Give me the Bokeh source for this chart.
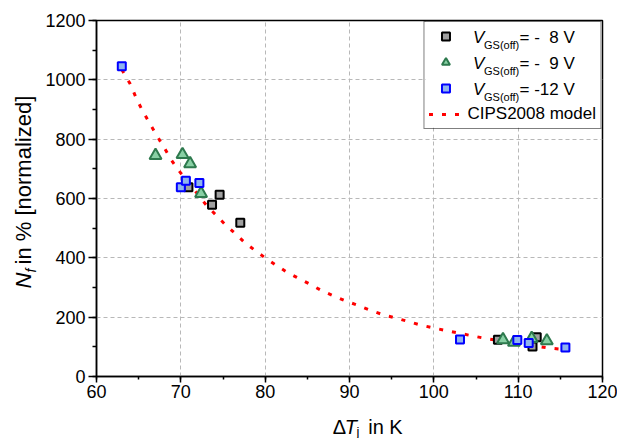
import math
from bokeh.plotting import figure
from bokeh.models import (Legend, LegendItem, Label, Range1d, BoxAnnotation,
                          SingleIntervalTicker)
from bokeh.layouts import row, column
from bokeh.embed import file_html
from bokeh.resources import INLINE

# ---------------- data ----------------
v8_x = [70.9, 73.7, 74.6, 77.05, 107.6, 111.7, 112.2]
v8_y = [638, 579, 613, 518, 124, 101, 132]

v9_x = [67.0, 70.2, 71.1, 72.4, 108.2, 109.5, 111.6, 113.4]
v9_y = [745, 748, 717, 617, 124, 115, 128, 120]

v12_x = [63.0, 70.0, 70.6, 72.2, 103.1, 109.9, 111.25, 115.6]
v12_y = [1046, 638, 660, 652, 125, 123, 113, 98]

model_x = [63.0, 64.0, 64.7, 65.4, 66.3, 67.15, 68.0, 68.8, 69.7, 71.4,
           73.06, 74.25, 75.2, 76.4, 77.6, 78.75, 80.05, 81.2, 82.45,
           83.75, 85.25, 86.6, 88.0, 89.5, 90.9, 92.3, 93.9, 95.5, 96.9,
           98.35, 99.9, 101.6, 103.2, 104.7, 106.2, 108.0, 110.0, 112.0,
           113.4, 115.1, 116.0]
model_y = [1035, 986, 939, 899, 854, 812, 773, 733, 696, 636,
           576, 542, 514, 483, 451, 426, 399, 377, 354,
           334, 312, 291, 273, 255, 241, 225, 209, 197, 186,
           174, 164, 154, 145, 136, 128, 120, 112, 103,
           97, 92, 90]

legend_labels = ["= -\u00a0 8 V", "= -\u00a0 9 V", "= -12 V"]
model_label = "CIPS2008 model"

FONT = "Liberation Sans"

# ---------------- layout geometry (canvas px) ----------------
W, H = 617, 438
YW = 42            # strip for the y-axis title
XH = 28            # strip for the x-axis title
PW, PH = W - YW, H - XH
ML, MR, MT, MB = 95 - YW, 15, 20, PH - 376
FL, FR, FT, FB = YW + ML, W - MR, MT, PH - MB   # frame in canvas px

p = figure(width=PW, height=PH, output_backend="svg", toolbar_location=None,
           x_range=Range1d(60, 120), y_range=Range1d(0, 1200),
           min_border_left=ML, min_border_right=MR,
           min_border_top=MT, min_border_bottom=MB,
           background_fill_color="white", border_fill_color="white")

p.outline_line_color = "black"
p.outline_line_width = 1.5

p.xaxis.ticker = SingleIntervalTicker(interval=10, num_minor_ticks=2)
p.yaxis.ticker = SingleIntervalTicker(interval=200, num_minor_ticks=2)
for ax in (p.xaxis, p.yaxis):
    ax.axis_line_color = "black"
    ax.axis_line_width = 1.5
    ax.major_tick_line_color = "black"
    ax.minor_tick_line_color = "black"
    ax.major_tick_line_width = 1.5
    ax.minor_tick_line_width = 1.5
    ax.major_tick_in = 0
    ax.minor_tick_in = 0
    ax.major_label_text_font = FONT
    ax.major_label_text_font_size = "18px"
    ax.major_label_text_color = "black"
p.xaxis.major_tick_out = 6
p.xaxis.minor_tick_out = 3
p.xaxis.major_label_standoff = 2
p.yaxis.major_tick_out = 8
p.yaxis.minor_tick_out = 4
p.yaxis.major_label_standoff = 3

for g in (p.xgrid, p.ygrid):
    g.grid_line_color = "#b8b8b8"
    g.grid_line_dash = "4 3"
    g.grid_line_width = 1


def dx(cx):
    return 60 + (cx - FL) * 60.0 / (FR - FL)


def dy(cy):
    return (FB - cy) * 1200.0 / (FB - FT)


# white backing for the legend (legend itself is transparent)
p.add_layout(BoxAnnotation(left=dx(425), right=dx(601), top=dy(21),
                           bottom=dy(127), fill_color="white",
                           fill_alpha=1.0, line_color=None))

# ---------------- marks ----------------
r_model = p.line(model_x, model_y, line_color="#ff0000", line_width=3,
                 line_dash="4 9")
r8 = p.scatter(v8_x, v8_y, marker="square", size=8, line_width=2,
               line_color="black", fill_color="#a0a0a0")
r9 = p.scatter(v9_x, v9_y, marker="triangle", size=12, line_width=2,
               line_color="#2e7a4e", fill_color="#88d0a4")
r12 = p.scatter(v12_x, v12_y, marker="square", size=8, line_width=2,
                line_color="#0000ff", fill_color="#8fb4ee")

legend = Legend(items=[LegendItem(label=" ", renderers=[r8]),
                       LegendItem(label=" ", renderers=[r9]),
                       LegendItem(label=" ", renderers=[r12]),
                       LegendItem(label=model_label, renderers=[r_model])],
                location="top_right", margin=1, padding=4, spacing=6,
                glyph_width=34, glyph_height=20, label_height=20,
                label_width=128, label_standoff=5,
                label_text_font=FONT, label_text_font_size="17px",
                label_text_color="black",
                border_line_color="black", border_line_width=1.5,
                background_fill_alpha=0.0)
p.add_layout(legend)


def plab(text, cx, cy, size, style="normal"):
    p.add_layout(Label(x=cx - FL, y=FB - cy, x_units="screen",
                       y_units="screen", text=text,
                       text_font=FONT, text_font_size=f"{size}px",
                       text_font_style=style, text_color="black",
                       text_align="left", text_baseline="middle"))


row_c = [36, 62, 88]
for rc, t in zip(row_c, legend_labels):
    plab("V", 471.5, rc + 0.5, 17, style="italic")
    plab("GS(off)", 482.5, rc + 8.5, 11)
    plab(t, 518, rc + 0.5, 17)

# ---------------- x-axis title strip ----------------
xf = figure(width=PW, height=XH, output_backend="svg", toolbar_location=None,
            x_range=Range1d(0, PW), y_range=Range1d(0, XH),
            min_border=0, outline_line_color=None,
            background_fill_color="white", border_fill_color="white")
xf.axis.visible = False
xf.grid.visible = False


def xlab(text, cx, cy, size, style="normal"):
    xf.add_layout(Label(x=cx - YW, y=H - cy, text=text,
                        text_font=FONT, text_font_size=f"{size}px",
                        text_font_style=style, text_color="black",
                        text_align="left", text_baseline="middle"))


xlab("\u0394", 310.5, 426.5, 20)
xlab("T", 324, 426.5, 20, style="italic")
xlab("j", 337.5, 430.5, 13)
xlab("in K", 350.8, 426.5, 20)

# ---------------- y-axis title strip ----------------
yf = figure(width=YW, height=H, output_backend="svg", toolbar_location=None,
            x_range=Range1d(0, YW), y_range=Range1d(0, H),
            min_border=0, outline_line_color=None,
            background_fill_color="white", border_fill_color="white")
yf.axis.visible = False
yf.grid.visible = False


def ylab(text, cx, cy, size, style="normal"):
    yf.add_layout(Label(x=cx, y=H - cy, text=text, angle=math.pi / 2,
                        text_font=FONT, text_font_size=f"{size}px",
                        text_font_style=style, text_color="black",
                        text_align="left", text_baseline="middle"))


ylab("N", 22.5, 288, 22, style="italic")
ylab("f", 30.5, 272, 14, style="italic")
ylab("in % [normalized]", 22.5, 264, 22)

layout = row(yf, column(p, xf, spacing=0), spacing=0)
open("out.html", "w").write(file_html(layout, INLINE))
